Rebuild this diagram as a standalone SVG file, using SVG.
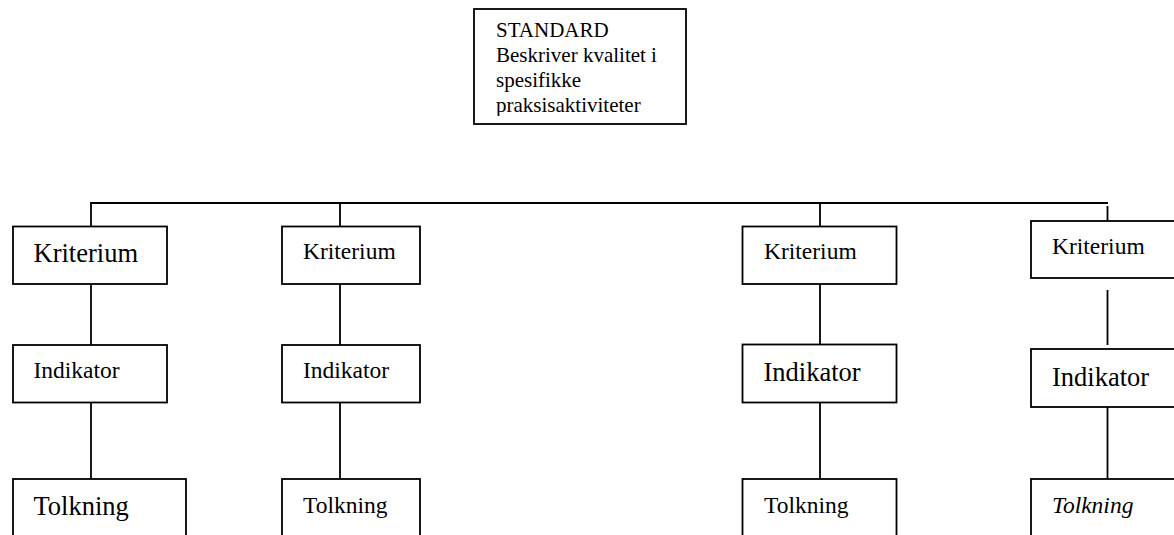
<svg xmlns="http://www.w3.org/2000/svg" width="1174" height="535" viewBox="0 0 1174 535" font-family="'Liberation Serif', 'Times New Roman', serif">
<style>
.box{fill:#fff;stroke:#000;stroke-width:1.8}
.con{stroke:#000;stroke-width:1.8;fill:none}
text{fill:#000}
</style>
<defs>
<clipPath id="stdclip"><rect x="475" y="10" width="210" height="106"/></clipPath>
</defs>
<rect width="1174" height="535" fill="#fff"/>
<g id="connectors">
<path class="con" d="M90 203 H1108"/>
<path class="con" d="M91 203 V226 M340 203 V226 M820 203 V226 M1107.5 206 V227"/>
<path class="con" d="M91 284 V345 M340 284 V345 M820 284 V345 M1107.5 290 V345"/>
<path class="con" d="M91 403 V479 M340 403 V479 M820 403 V479 M1107.5 402 V479"/>
</g>
<g id="standard">
<rect class="box" x="474" y="9" width="212" height="115"/>
<g clip-path="url(#stdclip)" font-family="Liberation Serif, serif" font-size="21">
<text x="496" y="37">STANDARD</text>
<text x="496" y="62">Beskriver kvalitet i</text>
<text x="496" y="87">spesifikke</text>
<text x="496" y="112">praksisaktiviteter</text>
</g>
</g>
<g id="kriterium1"><rect class="box" x="13" y="226.5" width="154" height="57.5"/><text font-family="Liberation Serif, serif" font-size="26.5" x="33.5" y="261.5">Kriterium</text></g>
<g id="kriterium2"><rect class="box" x="282" y="226.5" width="138" height="57.5"/><text font-family="Liberation Serif, serif" font-size="23.5" x="303" y="259">Kriterium</text></g>
<g id="kriterium3"><rect class="box" x="742.5" y="226.5" width="154" height="57.5"/><text font-family="Liberation Serif, serif" font-size="23.5" x="764" y="259">Kriterium</text></g>
<g id="kriterium4"><rect class="box" x="1031" y="221" width="160" height="57"/><text font-family="Liberation Serif, serif" font-size="23.5" x="1052" y="254">Kriterium</text></g>
<g id="indikator1"><rect class="box" x="13" y="345" width="154" height="57.5"/><text font-family="Liberation Serif, serif" font-size="23.5" x="33.5" y="378">Indikator</text></g>
<g id="indikator2"><rect class="box" x="282" y="345" width="138" height="57.5"/><text font-family="Liberation Serif, serif" font-size="23.5" x="303" y="378">Indikator</text></g>
<g id="indikator3"><rect class="box" x="742.5" y="344.5" width="154" height="58"/><text font-family="Liberation Serif, serif" font-size="26.5" x="763.5" y="381">Indikator</text></g>
<g id="indikator4"><rect class="box" x="1031" y="349" width="160" height="58"/><text font-family="Liberation Serif, serif" font-size="26.5" x="1052" y="385.5">Indikator</text></g>
<g id="tolkning1"><rect class="box" x="13" y="479" width="173" height="80"/><text font-family="Liberation Serif, serif" font-size="26.5" x="33.5" y="515">Tolkning</text></g>
<g id="tolkning2"><rect class="box" x="282" y="479" width="138" height="80"/><text font-family="Liberation Serif, serif" font-size="23.5" x="303" y="512.5">Tolkning</text></g>
<g id="tolkning3"><rect class="box" x="742.5" y="479" width="154" height="80"/><text font-family="Liberation Serif, serif" font-size="23.5" x="764" y="512.5">Tolkning</text></g>
<g id="tolkning4"><rect class="box" x="1031" y="479" width="160" height="80"/><text font-family="Liberation Serif, serif" font-size="23.5" font-style="italic" x="1052" y="513">Tolkning</text></g>
</svg>
